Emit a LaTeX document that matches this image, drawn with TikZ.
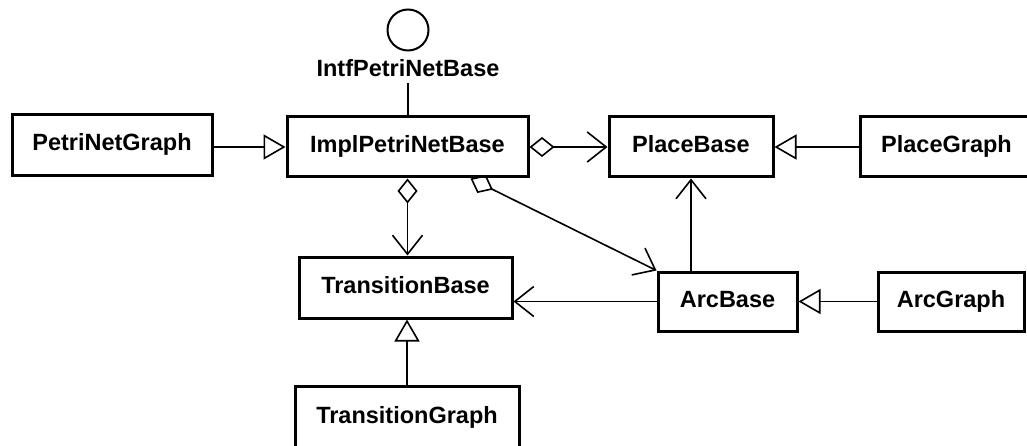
\documentclass[tikz,border=0pt]{standalone}
\usepackage{fontspec}
\setmainfont{Liberation Sans}
\usetikzlibrary{arrows.meta}
\begin{document}
\begin{tikzpicture}[x=1pt,y=-1pt,
  cls/.style={draw, line width=3pt, rectangle, inner sep=0pt, fill=white,
    text height=17pt, text depth=6pt,
    font=\bfseries\fontsize{23.5}{28}\selectfont},
  lbl/.style={inner sep=0pt, text height=17pt, text depth=6pt,
    font=\bfseries\fontsize{23.5}{28}\selectfont},
  conn/.style={line width=1.6pt},
  inherit/.style={conn, -{Triangle[open, length=22pt, width=25pt, line width=1.6pt]}},
  nav/.style={conn, -{Straight Barb[length=19pt, width=30pt, line width=1.6pt]}},
  agg/.style={conn, {Diamond[open, length=25pt, width=20pt, line width=1.6pt]}-{Straight Barb[length=19pt, width=30pt, line width=1.6pt]}}
]
\useasboundingbox (0,0) rectangle (1027,446);
\clip (0,0) rectangle (1027,446);
\fill[white] (0,0) rectangle (1027,446);

% interface lollipop
\node[draw, circle, line width=2pt, minimum size=41pt, inner sep=0pt] (intf) at (408,30) {};
\node[lbl] (intflabel) at (408,71.5) {IntfPetriNetBase};

% classes
\node[cls, minimum width=200pt, minimum height=61pt] (png)    at (112,145.5) {PetriNetGraph};
\node[cls, minimum width=241pt, minimum height=60pt] (impl)   at (407.5,147) {ImplPetriNetBase};
\node[cls, minimum width=164pt, minimum height=60pt] (place)  at (691,147)   {PlaceBase};
\node[cls, minimum width=173pt, minimum height=60pt] (pgraph) at (946.5,147) {PlaceGraph};
\node[cls, minimum width=213pt, minimum height=61pt] (trans)  at (405.5,287.5) {TransitionBase};
\node[cls, minimum width=139pt, minimum height=59pt] (arc)    at (727.5,301.5) {ArcBase};
\node[cls, minimum width=146pt, minimum height=59pt] (agraph) at (951,301.5) {ArcGraph};
\node[cls, minimum width=224pt, minimum height=63pt] (tgraph) at (407,417.5) {TransitionGraph};

% interface realisation
\draw[conn] (intflabel.south) -- (intflabel.south |- impl.north);

% generalisations
\draw[inherit] (png.east |- impl.west) -- (impl.west);
\draw[inherit] (pgraph.west) -- (place.east);
\draw[inherit] (agraph.west) -- (arc.east);
\draw[inherit] (tgraph.north) -- (tgraph.north |- trans.south);

% aggregations
\draw[agg] (impl.east) -- (place.west);
\draw[agg] (impl.south) -- (impl.south |- trans.north);
\draw[agg] ([xshift=185pt]impl.south west) -- (arc.north west);

% associations
\draw[nav] (arc.north -| place.south) -- (place.south);
\draw[nav] (arc.west) -- (arc.west -| trans.east);
\end{tikzpicture}
\end{document}
